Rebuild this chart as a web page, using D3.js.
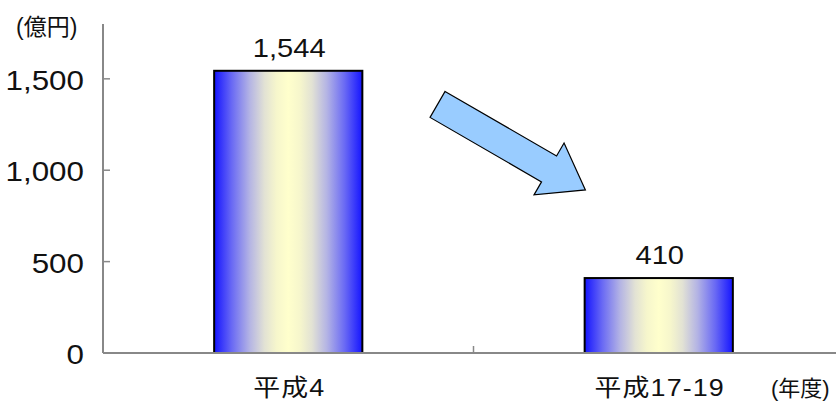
<!DOCTYPE html>
<html lang="ja">
<head>
<meta charset="utf-8">
<script src="https://cdn.jsdelivr.net/npm/d3@7"></script>
<style>
  html, body { margin: 0; padding: 0; background: #fff; }
  svg { display: block; }
  text { font-family: "Liberation Sans", "Noto Sans CJK JP", sans-serif; fill: #111; }
</style>
</head>
<body>
<svg id="chart" width="836" height="402"></svg>
<script>
// 事業費の推移（億円）
const categories = ["平成4", "平成17-19"];
const values = [1544, 410];
const valueLabels = ["1,544", "410"];
const yTicks = [0, 500, 1000, 1500];
const yTickLabels = ["0", "500", "1,000", "1,500"];
const yMax = 1800;
const yUnit = "(億円)";
const xUnit = "(年度)";

// 減少を示す矢印（x: 第1項目中心=0, 第2項目中心=1 / y: 値）
const arrowFrom = [0.403, 1360];
const arrowTo = [0.802, 892];

const W = 836, H = 402;
const margin = { top: 24, left: 103, bottom: 49 };
const plotRight = 844;
const wide = 1.12; // 横長の字形
const svg = d3.select("#chart");

const x = d3.scaleBand().domain(categories).range([margin.left, plotRight]).paddingInner(0).paddingOuter(0);
const y = d3.scaleLinear().domain([0, yMax]).range([H - margin.bottom, margin.top]);
const barW = x.bandwidth() * 0.4;

// バーのグラデーション（青→淡黄→青）
const defs = svg.append("defs");
const grad = defs.append("linearGradient").attr("id", "barGrad")
  .attr("x1", "0%").attr("x2", "100%").attr("y1", "0%").attr("y2", "0%");
[
  [0, "#1414ff"], [0.12, "#6a6af4"], [0.24, "#b4b4e4"], [0.34, "#e2e2d4"],
  [0.42, "#f6f6cc"], [0.5, "#ffffcc"], [0.58, "#f6f6cc"], [0.66, "#e2e2d4"],
  [0.76, "#b4b4e4"], [0.88, "#6a6af4"], [1, "#1414ff"]
].forEach(([o, c]) => grad.append("stop").attr("offset", o).attr("stop-color", c));

// 軸
const axisColor = "#888";
svg.append("line")
  .attr("x1", margin.left).attr("x2", margin.left)
  .attr("y1", y(yMax)).attr("y2", y(0))
  .attr("stroke", axisColor).attr("stroke-width", 2);
svg.selectAll(".ytick").data(yTicks).enter().append("line")
  .attr("x1", margin.left).attr("x2", margin.left + 7)
  .attr("y1", d => y(d)).attr("y2", d => y(d))
  .attr("stroke", axisColor).attr("stroke-width", 1.5);
svg.selectAll(".ylab").data(yTicks).enter().append("text")
  .attr("transform", d => `translate(84,${y(d) + 11}) scale(${wide},1)`)
  .attr("text-anchor", "end").attr("font-size", 28)
  .text((d, i) => yTickLabels[i]);

// 棒
svg.selectAll(".bar").data(values).enter().append("rect")
  .attr("x", (d, i) => x(categories[i]) + (x.bandwidth() - barW) / 2)
  .attr("width", barW)
  .attr("y", d => y(d))
  .attr("height", d => y(0) - y(d))
  .attr("fill", "url(#barGrad)")
  .attr("stroke", "#000").attr("stroke-width", 2);

// x軸（棒の上に重ねる）
svg.append("line")
  .attr("x1", margin.left).attr("x2", plotRight)
  .attr("y1", y(0)).attr("y2", y(0))
  .attr("stroke", axisColor).attr("stroke-width", 2);
svg.selectAll(".xtick").data(categories.slice(1)).enter().append("line")
  .attr("x1", d => x(d)).attr("x2", d => x(d))
  .attr("y1", y(0)).attr("y2", y(0) - 7)
  .attr("stroke", axisColor).attr("stroke-width", 1.5);

// 値ラベル
svg.selectAll(".vlab").data(values).enter().append("text")
  .attr("transform", (d, i) => `translate(${x(categories[i]) + x.bandwidth() / 2 + 1},${y(d) - 14}) scale(${wide},1)`)
  .attr("text-anchor", "middle").attr("font-size", 26)
  .text((d, i) => valueLabels[i]);

// 項目ラベル
svg.selectAll(".xlab").data(categories).enter().append("text")
  .attr("transform", d => `translate(${x(d) + x.bandwidth() / 2 + 1},396) scale(${wide},1)`)
  .attr("text-anchor", "middle").attr("font-size", 24)
  .attr("letter-spacing", 1)
  .text(d => d);

// 単位
svg.append("text").attr("x", 16).attr("y", 35).attr("font-size", 23).text(yUnit);
svg.append("text").attr("x", 771).attr("y", 396).attr("font-size", 22).text(xUnit);

// 矢印
const cx = d3.scaleLinear().domain([0, 1])
  .range([x(categories[0]) + x.bandwidth() / 2, x(categories[1]) + x.bandwidth() / 2]);
const p0 = [cx(arrowFrom[0]), y(arrowFrom[1])];
const p1 = [cx(arrowTo[0]), y(arrowTo[1])];
const len = Math.hypot(p1[0] - p0[0], p1[1] - p0[1]);
const ux = (p1[0] - p0[0]) / len, uy = (p1[1] - p0[1]) / len;
const px = -uy, py = ux;
const shaftHalf = 15, headHalf = 30, headLen = 42;
const hb = [p1[0] - ux * headLen, p1[1] - uy * headLen];
const pts = [
  [p0[0] - px * shaftHalf, p0[1] - py * shaftHalf],
  [hb[0] - px * shaftHalf, hb[1] - py * shaftHalf],
  [hb[0] - px * headHalf, hb[1] - py * headHalf],
  p1,
  [hb[0] + px * headHalf, hb[1] + py * headHalf],
  [hb[0] + px * shaftHalf, hb[1] + py * shaftHalf],
  [p0[0] + px * shaftHalf, p0[1] + py * shaftHalf]
];
svg.append("path")
  .attr("d", d3.line()(pts) + "Z")
  .attr("fill", "#99ccff").attr("stroke", "#000").attr("stroke-width", 1.2)
  .attr("stroke-linejoin", "miter");
</script>
</body>
</html>
